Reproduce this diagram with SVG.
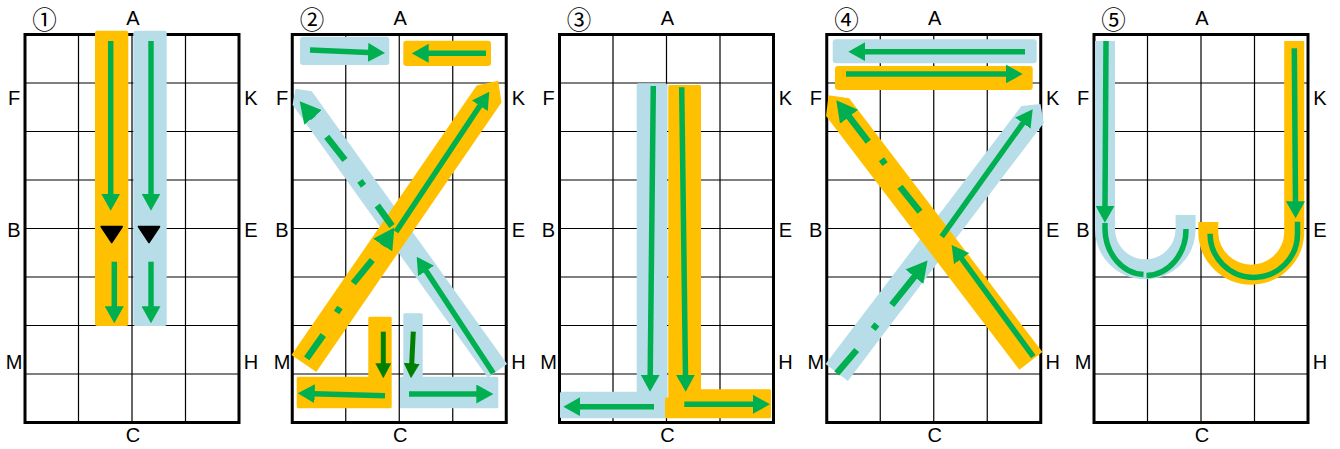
<svg xmlns="http://www.w3.org/2000/svg" xmlns:xlink="http://www.w3.org/1999/xlink" width="1340" height="449" viewBox="0 0 1340 449">
<style>
.frame{fill:none;stroke:#000;stroke-width:3}
.grid{fill:none;stroke:#000;stroke-width:1.2}
.lbl{font-family:"Liberation Sans",Arial,sans-serif;font-size:20px;text-anchor:middle;fill:#000}
.num{font-family:"Noto Sans CJK JP","Noto Sans CJK SC",sans-serif;font-size:24.5px;text-anchor:middle;fill:#000}
.or{fill:#FFC000}
.bl{fill:#B7DDE8}
.orL{fill:#FFC000;stroke:#FFC000;stroke-width:3;stroke-linejoin:round}
.blL{fill:#B7DDE8;stroke:#B7DDE8;stroke-width:3;stroke-linejoin:round}
.orU{fill:none;stroke:#FFC000;stroke-width:20}
.blU{fill:none;stroke:#B7DDE8;stroke-width:20}
.tri{fill:#000;stroke:#000;stroke-width:2;stroke-linejoin:round}
.g{fill:none;stroke:#00B050;stroke-width:5.5;marker-end:url(#ah)}
.ga{fill:none;stroke:#00B050;stroke-width:5.5}
.gd{fill:none;stroke:#00B050;stroke-width:6.5;marker-end:url(#ahL)}
.gk{fill:none;stroke:#008000;stroke-width:5;marker-end:url(#ahD)}
</style>
<defs>
<marker id="ah" markerUnits="userSpaceOnUse" markerWidth="17" markerHeight="19" viewBox="0 0 17 19" refX="1" refY="9.5" orient="auto"><path d="M0,0 L17,9.5 L0,19 Z" fill="#00B050"/></marker>
<marker id="ahL" markerUnits="userSpaceOnUse" markerWidth="21" markerHeight="23" viewBox="0 0 21 23" refX="1" refY="11.5" orient="auto"><path d="M0,0 L21,11.5 L0,23 Z" fill="#00B050"/></marker>
<marker id="ahD" markerUnits="userSpaceOnUse" markerWidth="15" markerHeight="16" viewBox="0 0 15 16" refX="1" refY="8" orient="auto"><path d="M0,0 L15,8 L0,16 Z" fill="#008000"/></marker>
<g id="grid">
<path class="grid" d="M53.5,34.5V422.5 M107,34.5V422.5 M160.5,34.5V422.5 M0,83H214 M0,131.5H214 M0,180H214 M0,228.5H214 M0,277H214 M0,325.5H214 M0,374H214"/>
<rect class="frame" x="0" y="34.5" width="214" height="388"/>
</g>
</defs>
<rect width="1340" height="449" fill="#fff"/>

<g id="panel1">
<use href="#grid" xlink:href="#grid" x="25" y="0"/>
<text class="num" x="44.5" y="28.5">①</text>
<text class="lbl" x="133" y="25">A</text>
<text class="lbl" x="133" y="442">C</text>
<text class="lbl" x="14" y="105">F</text>
<text class="lbl" x="14" y="237">B</text>
<text class="lbl" x="14" y="369">M</text>
<text class="lbl" x="251" y="105">K</text>
<text class="lbl" x="251" y="237">E</text>
<text class="lbl" x="251" y="369">H</text>
<rect class="or" x="95" y="30.7" width="33.3" height="295.3" rx="2"/>
<rect class="bl" x="133.3" y="30.7" width="33.4" height="295.3" rx="2"/>
<polygon class="tri" points="101.4,226.7 122,226.7 111.7,242.3"/>
<polygon class="tri" points="138.7,226.7 159.3,226.7 149,242.3"/>
</g>

<g id="panel2">
<use href="#grid" xlink:href="#grid" x="292.25" y="0"/>
<text class="num" x="312" y="28.5">②</text>
<text class="lbl" x="400.25" y="25">A</text>
<text class="lbl" x="400.25" y="442">C</text>
<text class="lbl" x="282" y="105">F</text>
<text class="lbl" x="282" y="237">B</text>
<text class="lbl" x="282" y="369">M</text>
<text class="lbl" x="518.5" y="105">K</text>
<text class="lbl" x="518.5" y="237">E</text>
<text class="lbl" x="518.5" y="369">H</text>
<rect class="bl" x="300" y="36.7" width="89.3" height="28.3" rx="3"/>
<rect class="or" x="403.3" y="40.7" width="87.7" height="25.3" rx="3"/>
<polygon class="bl" transform="translate(497.5,370.8) rotate(234.4)" points="0,-11.8 335.5,-11.8 347,0 335.5,11.8 0,11.8"/>
<polygon class="or" transform="translate(303.9,363.4) rotate(-55.5)" points="0,-15 327,-15 343,0 327,15 0,15"/>
<path class="orL" d="M369.8,318.2 H390.2 V406.8 H298.2 V378.2 H369.8 Z"/>
<path class="blL" d="M404.8,314.8 H421.2 V378.2 H496.8 V406.8 H401.5 V378.2 H404.8 Z"/>
</g>

<g id="panel3">
<use href="#grid" xlink:href="#grid" x="559.5" y="0"/>
<text class="num" x="579" y="28.5">③</text>
<text class="lbl" x="667.5" y="25">A</text>
<text class="lbl" x="667.5" y="442">C</text>
<text class="lbl" x="548.5" y="105">F</text>
<text class="lbl" x="548.5" y="237">B</text>
<text class="lbl" x="548.5" y="369">M</text>
<text class="lbl" x="785.5" y="105">K</text>
<text class="lbl" x="785.5" y="237">E</text>
<text class="lbl" x="785.5" y="369">H</text>
<path class="blL" d="M638.2,84.8 H665.5 V416.8 H561.5 V393.2 H638.2 Z"/>
<path class="orL" d="M669.8,86.5 H699.5 V390.8 H769.5 V416.8 H666.5 V399 H669.8 Z"/>
</g>

<g id="panel4">
<use href="#grid" xlink:href="#grid" x="826.75" y="0"/>
<text class="num" x="846.5" y="28.5">④</text>
<text class="lbl" x="934.75" y="25">A</text>
<text class="lbl" x="934.75" y="442">C</text>
<text class="lbl" x="815.75" y="105">F</text>
<text class="lbl" x="815.75" y="237">B</text>
<text class="lbl" x="815.75" y="369">M</text>
<text class="lbl" x="1052.75" y="105">K</text>
<text class="lbl" x="1052.75" y="237">E</text>
<text class="lbl" x="1052.75" y="369">H</text>
<rect class="bl" x="832.7" y="39.3" width="204" height="24" rx="3"/>
<rect class="or" x="835" y="66" width="197.7" height="24" rx="3"/>
<polygon class="bl" transform="translate(836.7,372.5) rotate(-52.8)" points="0,-14 324,-14 337,0 324,14 0,14"/>
<polygon class="or" transform="translate(1030.9,360.9) rotate(232.7)" points="0,-14.5 319,-14.5 334,0 319,14.5 0,14.5"/>
</g>

<g id="panel5">
<use href="#grid" xlink:href="#grid" x="1094" y="0"/>
<text class="num" x="1113.5" y="28.5">⑤</text>
<text class="lbl" x="1202" y="25">A</text>
<text class="lbl" x="1202" y="442">C</text>
<text class="lbl" x="1083" y="105">F</text>
<text class="lbl" x="1083" y="237">B</text>
<text class="lbl" x="1083" y="369">M</text>
<text class="lbl" x="1320" y="105">K</text>
<text class="lbl" x="1320" y="237">E</text>
<text class="lbl" x="1320" y="369">H</text>
<path class="blU" d="M1105,41 V229 A40.3,40.3 0 0 0 1185.6,229 V215"/>
<path class="orU" d="M1294.2,41 V233.7 A43,43 0 0 1 1208.3,233.7 V222"/>
</g>

<g id="connectors">
<path class="g" d="M110.7,41 V194.7"/>
<path class="g" d="M114.3,261.7 V307.3"/>
<path class="g" d="M151,41 V194.7"/>
<path class="g" d="M151,261.7 V307.3"/>
<path class="g" d="M310,50 L369,52.4"/>
<path class="g" d="M486,53.3 L427.7,53.3"/>
<path class="g" d="M396,231.7 L480.4,105"/>
<path class="g" d="M493.3,373.3 L425.5,270.1"/>
<path class="gd" d="M306.7,358.3 L323.3,335 M336.6,312.5 L340,307.5 M353.3,283.3 L372.3,260 M382.5,245.4 L383.3,244.2"/>
<path class="gd" d="M392,226 L377.3,205.5 M363.5,185.7 L359.9,180.9 M345,160 L326.7,136.7 M313.5,117.9 L312.5,116.7"/>
<path class="gk" d="M383.3,331.7 V364.3"/>
<path class="gk" d="M413.3,331.7 L411.7,364.3"/>
<path class="g" d="M385,395.7 L313.7,393.7"/>
<path class="g" d="M409,394 H477.3"/>
<path class="g" d="M653.3,86 L650.2,375.7"/>
<path class="g" d="M654,406.7 H579.3"/>
<path class="g" d="M681.7,87.3 L685.5,375.7"/>
<path class="g" d="M684.3,404.3 H754"/>
<path class="g" d="M1025,51.7 H864.3"/>
<path class="g" d="M846,74 H1006.7"/>
<path class="g" d="M1033.3,356.7 L961.1,257.9"/>
<path class="g" d="M941.7,236.7 L1023.4,122.3"/>
<path class="gd" d="M920,211.7 L900,186.7 M885.1,164.1 L881.5,159.3 M868.3,141.7 L848.5,116"/>
<path class="gd" d="M836.7,373.3 L856.7,350 M873.1,329 L876.9,324.4 M891.7,305 L915,276"/>
<path class="g" d="M1106,41 L1105,206.7"/>
<path class="ga" d="M1105,223 V229 A40.5,46 0 0 0 1143.5,274.5"/>
<path class="ga" d="M1146.5,275.5 A40.5,46 0 0 0 1186,229"/>
<path class="g" d="M1294.3,48.3 L1295.5,202.3"/>
<path class="ga" d="M1297.5,221.7 V233.7 A43.7,43.7 0 0 1 1210.1,233.7"/>
</g>
</svg>
